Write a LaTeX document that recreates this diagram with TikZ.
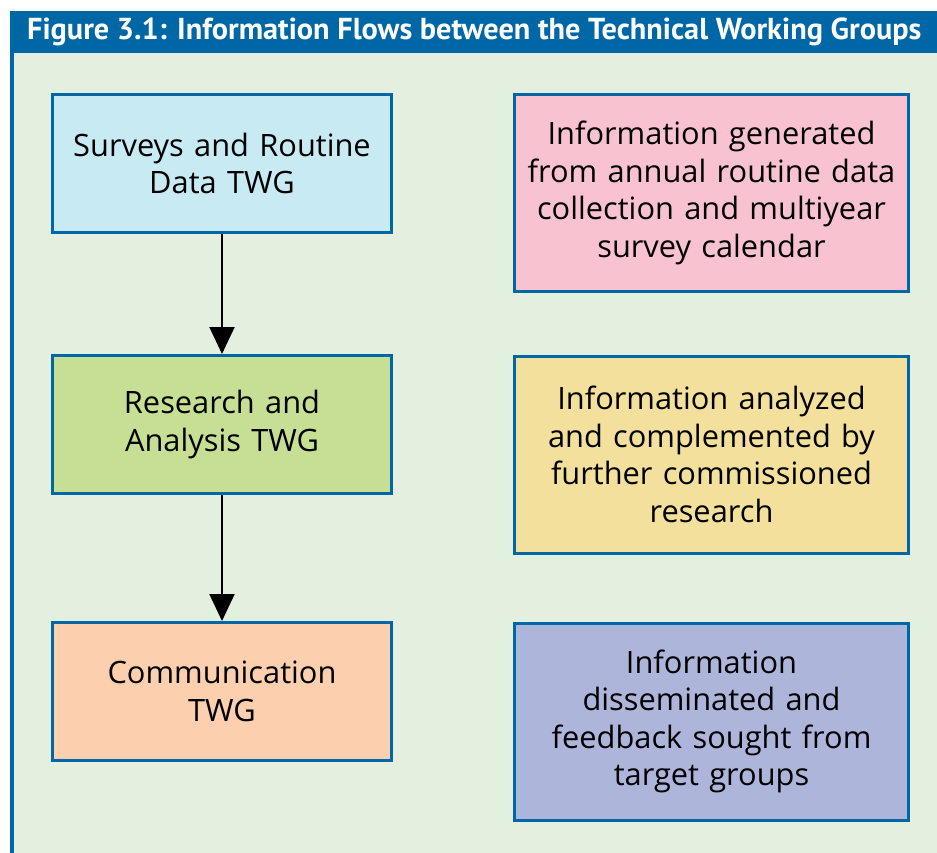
\documentclass[tikz,border=0pt]{standalone}
\usepackage{fontspec}
\setmainfont{Open Sans}
\newfontfamily\titlefont{PT Sans}
\definecolor{frameblue}{HTML}{0067A7}
\definecolor{bggreen}{HTML}{E3F0DF}
\definecolor{cyanbox}{HTML}{C8EAF3}
\definecolor{greenbox}{HTML}{C6DF94}
\definecolor{orangebox}{HTML}{FCD0AE}
\definecolor{pinkbox}{HTML}{F8C2D1}
\definecolor{yellowbox}{HTML}{F2E09C}
\definecolor{bluebox}{HTML}{AEB5DB}
\usetikzlibrary{arrows.meta}
\begin{document}
\begin{tikzpicture}[x=1pt,y=-1pt,
  flowbox/.style={draw=frameblue,line width=3pt,align=center,inner sep=0pt,
    font=\fontsize{30.8}{37.5}\selectfont},
  leftbox/.style={flowbox,minimum width=339pt,minimum height=138pt,text width=335pt},
  rightbox/.style={flowbox,minimum width=394pt,minimum height=197pt,text width=390pt},
  flowarrow/.style={-{Triangle[width=25pt,length=27pt]},line width=2pt}]
\useasboundingbox (0,0) rectangle (937,853);
\fill[white] (0,0) rectangle (937,853);
\fill[bggreen] (10,53) rectangle (937,853);
\fill[frameblue] (10,11) rectangle (937,53);
\fill[frameblue] (10,53) rectangle (13.5,853);
\node[font=\titlefont\bfseries\fontsize{30.3}{34}\selectfont,text=white,anchor=west,inner sep=0pt] (title) at (27,32) {Figure 3.1: Information Flows between the Technical Working Groups};
\node[leftbox,fill=cyanbox] (srd) at (222,163.5) {Surveys and Routine\\Data TWG};
\node[leftbox,fill=greenbox] (ra) at (222,424.5) {Research and\\Analysis TWG};
\node[leftbox,fill=orangebox] (comm) at (222,691.5) {Communication\\TWG};
\node[rightbox,fill=pinkbox] (gen) at (711.5,193) {Information generated\\from annual routine data\\collection and multiyear\\survey calendar};
\node[rightbox,fill=yellowbox] (ana) at (711.5,454.5) {Information analyzed\\and complemented by\\further commissioned\\research};
\node[rightbox,fill=bluebox] (dis) at (711.5,721.5) {Information\\disseminated and\\feedback sought from\\target groups};
\draw[flowarrow] (srd.south) -- (ra.north);
\draw[flowarrow] (ra.south) -- (comm.north);
\end{tikzpicture}
\end{document}
